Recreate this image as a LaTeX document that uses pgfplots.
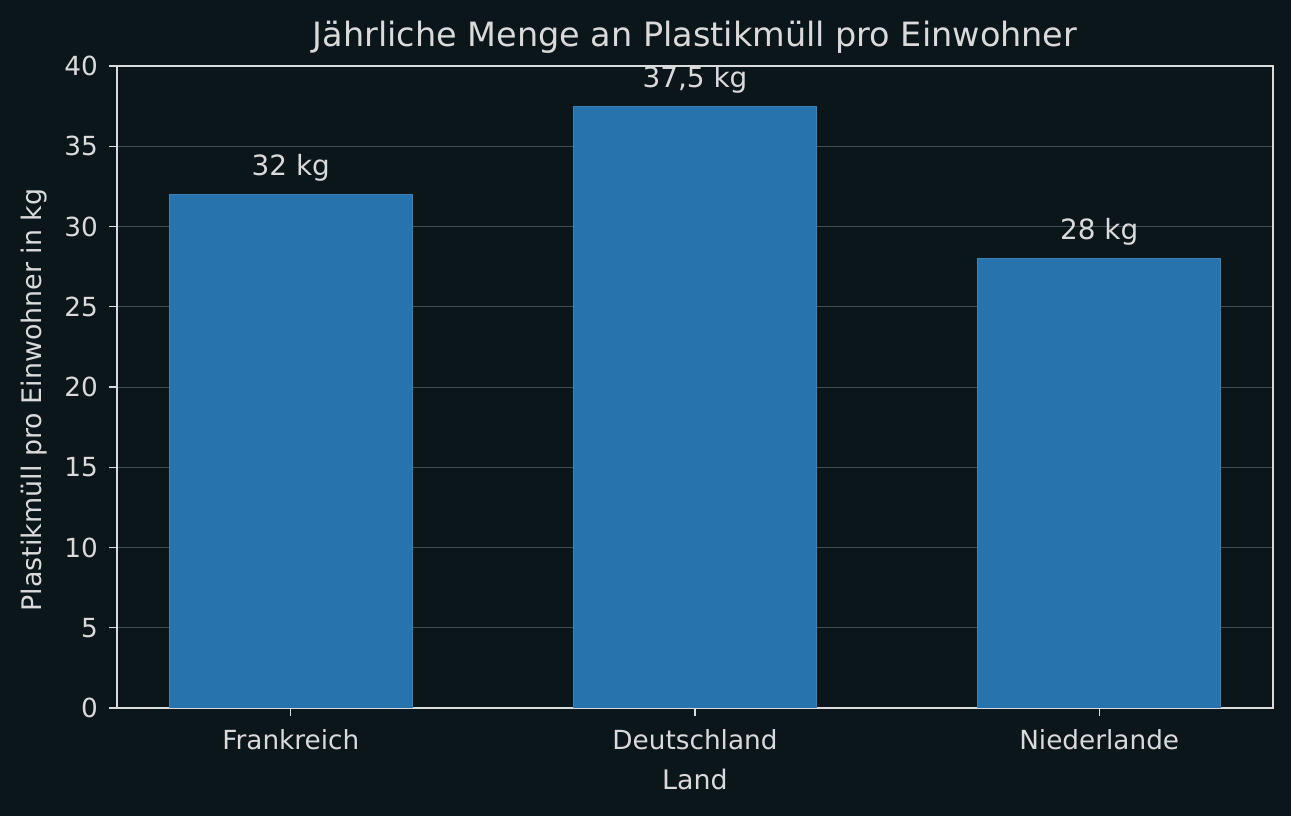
\documentclass[border=0pt]{standalone}
\usepackage{pgfplots}
\pgfplotsset{compat=1.18}
\usepackage{fontspec}
\setmainfont{DejaVu Sans}
\definecolor{bg}{HTML}{0B161B}
\definecolor{barc}{HTML}{2673AE}
\definecolor{bare}{HTML}{3A82B8}
\definecolor{txt}{HTML}{DADADA}
\definecolor{gridc}{HTML}{414D52}
\begin{document}
\begin{tikzpicture}
\fill[bg] (0,0) rectangle (645.5bp,408bp);
\begin{axis}[
  at={(58.5bp,54bp)}, anchor=south west,
  scale only axis, width=578bp, height=321bp,
  xmin=-0.43, xmax=2.43, ymin=0, ymax=40,
  xtick=data, xticklabels={Frankreich,Deutschland,Niederlande},
  ytick={0,5,...,40},
  xtick pos=lower, ytick pos=left,
  tick align=outside, tick style={color=txt, line width=0.6pt},
  major tick length=4bp,
  axis line style={color=txt, line width=0.7pt},
  ymajorgrids, grid style={color=gridc, line width=0.5pt},
  ticklabel style={color=txt, font=\fontsize{13.2}{15}\selectfont},
  yticklabel style={xshift=-2bp},
  xticklabel style={yshift=-3bp},
  /pgf/number format/assume math mode=true,
  xlabel={Land}, ylabel={Plastikmüll pro Einwohner in kg},
  label style={color=txt, font=\fontsize{13.5}{15}\selectfont},
  title={Jährliche Menge an Plastikmüll pro Einwohner},
  title style={color=txt, font=\fontsize{16.8}{19}\selectfont, yshift=-3bp},
  xlabel style={yshift=-3bp},
  ylabel style={yshift=2bp, xshift=-6.5bp},
  ybar, bar width=0.6,
  nodes near coords, point meta=explicit symbolic,
  nodes near coords style={color=txt, font=\fontsize{14}{16}\selectfont, yshift=3bp},
]
\addplot[fill=barc, draw=bare, line width=0.5pt] coordinates {(0,32) [32 kg] (1,37.5) [37,5 kg] (2,28) [28 kg]};
\end{axis}
\end{tikzpicture}
\end{document}
